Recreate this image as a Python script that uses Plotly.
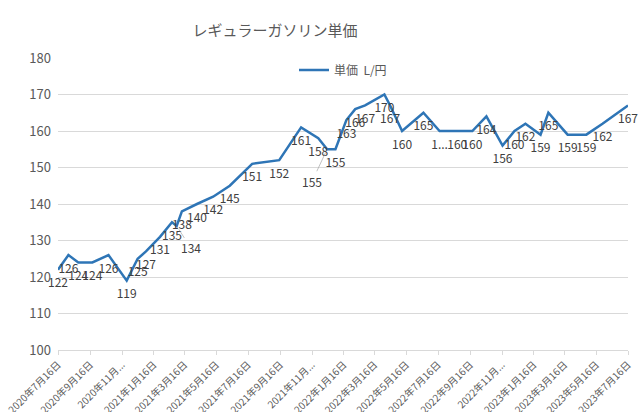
import plotly.graph_objects as go

dates = ["2020-07-16", "2020-08-05", "2020-08-24", "2020-09-20", "2020-10-21",
         "2020-11-25", "2020-12-16", "2021-01-01", "2021-01-28", "2021-02-20",
         "2021-03-01", "2021-03-11", "2021-04-09", "2021-05-10", "2021-06-11",
         "2021-07-24", "2021-09-14", "2021-10-26", "2021-11-28", "2021-12-15",
         "2021-12-31", "2022-01-21", "2022-02-07", "2022-02-26", "2022-04-04",
         "2022-04-15", "2022-05-08", "2022-06-18", "2022-07-19", "2022-08-22",
         "2022-09-20", "2022-10-17", "2022-11-17", "2022-12-10", "2022-12-31",
         "2023-01-29", "2023-02-13", "2023-03-22", "2023-04-27", "2023-05-28",
         "2023-07-16"]
values = [122, 126, 124, 124, 126, 119, 125, 127, 131, 135,
          134, 138, 140, 142, 145, 151, 152, 161, 158, 155,
          155, 163, 166, 167, 170, 167, 160, 165, 160, 160,
          160, 164, 156, 160, 162, 159, 165, 159, 159, 162,
          167]
labels = [str(v) for v in values]
labels[28] = "1..."
moved = {10: (14, 22), 19: (-15, 32)}  # labels placed away with leader lines (index: ax, ay)

tick_vals = ["2020-07-16", "2020-09-16", "2020-11-16", "2021-01-16", "2021-03-16",
             "2021-05-16", "2021-07-16", "2021-09-16", "2021-11-16", "2022-01-16",
             "2022-03-16", "2022-05-16", "2022-07-16", "2022-09-16", "2022-11-16",
             "2023-01-16", "2023-03-16", "2023-05-16", "2023-07-16"]
tick_text = ["2020年7月16日", "2020年9月16日", "2020年11月...", "2021年1月16日", "2021年3月16日",
             "2021年5月16日", "2021年7月16日", "2021年9月16日", "2021年11月...", "2022年1月16日",
             "2022年3月16日", "2022年5月16日", "2022年7月16日", "2022年9月16日", "2022年11月...",
             "2023年1月16日", "2023年3月16日", "2023年5月16日", "2023年7月16日"]

FONT = "Noto Sans CJK JP, sans-serif"
shown = [("" if i in moved else t) for i, t in enumerate(labels)]

fig = go.Figure()
fig.add_trace(go.Scatter(
    x=dates, y=values, mode="lines+markers+text", name="単価  L/円",
    line=dict(color="#2E75B6", width=2.5),
    marker=dict(size=12, color="rgba(0,0,0,0)", line=dict(width=0)),
    text=shown, textposition="bottom center",
    textfont=dict(family=FONT, size=12, color="#404040"),
    cliponaxis=False,
))

for i, (ax, ay) in moved.items():
    fig.add_annotation(x=dates[i], y=values[i], text=labels[i], showarrow=True,
                       arrowhead=0, arrowwidth=0.7, arrowcolor="#a6a6a6",
                       ax=ax, ay=ay, standoff=4,
                       font=dict(family=FONT, size=12, color="#404040"))

fig.update_layout(
    width=640, height=412,
    margin=dict(l=58, r=12, t=58, b=62),
    paper_bgcolor="white", plot_bgcolor="white",
    title=dict(text="レギュラーガソリン単価", x=275 / 640, xanchor="center",
               xref="container", y=1 - 31 / 412, yref="container", yanchor="middle",
               font=dict(family=FONT, size=15, color="#595959")),
    showlegend=True,
    legend=dict(orientation="h", x=0.5, xanchor="center", y=(350 - 70) / 292, yanchor="middle",
                bgcolor="rgba(0,0,0,0)",
                font=dict(family=FONT, size=12, color="#595959")),
    xaxis=dict(type="date", range=["2020-07-16", "2023-07-16"], automargin=False,
               tickmode="array", tickvals=tick_vals, ticktext=tick_text,
               tickangle=-45, tickfont=dict(family=FONT, size=10, color="#595959"),
               showgrid=False, showline=True, linecolor="#d9d9d9", linewidth=1,
               ticks="outside", ticklen=4, tickcolor="#d9d9d9", zeroline=False),
    yaxis=dict(range=[100, 180], dtick=10, showgrid=True, gridcolor="#d9d9d9",
               gridwidth=1, zeroline=False, showline=False, automargin=False,
               ticklabelstandoff=6,
               tickfont=dict(family=FONT, size=13, color="#595959")),
)

fig.write_html("out.html", config={"displayModeBar": False},
               post_script="document.body.style.margin='0';")
